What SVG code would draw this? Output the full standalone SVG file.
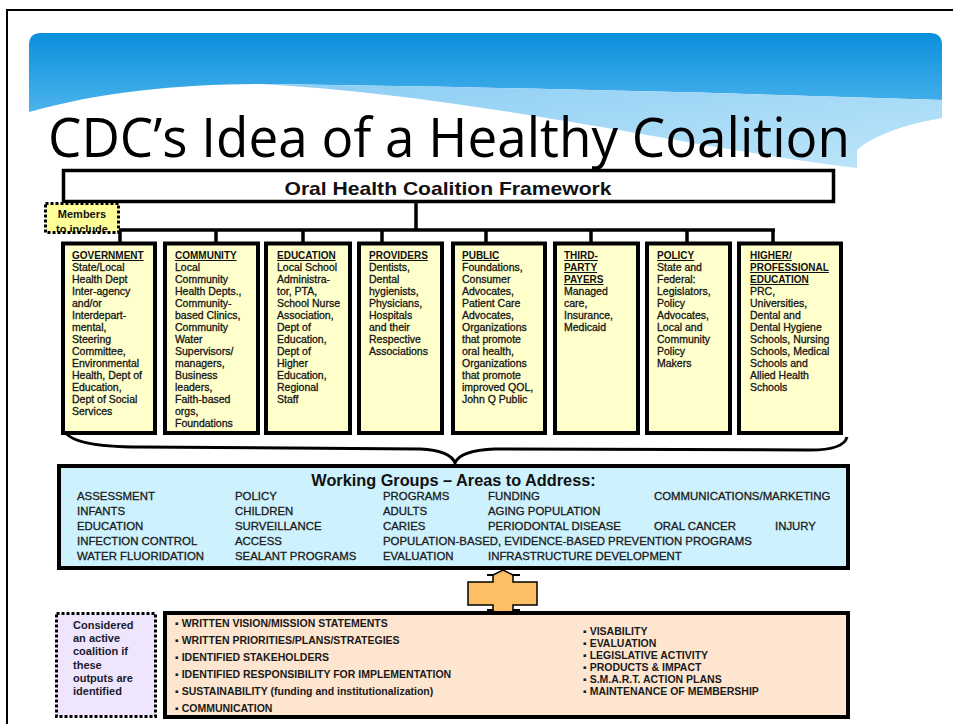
<svg xmlns="http://www.w3.org/2000/svg" width="953" height="724" viewBox="0 0 953 724">
<defs>
<linearGradient id="sky" x1="0" y1="0" x2="0" y2="1">
<stop offset="0" stop-color="#0a8fdc"/>
<stop offset="1" stop-color="#4cb3ec"/>
</linearGradient>
<linearGradient id="band" x1="0" y1="0" x2="1" y2="1">
<stop offset="0" stop-color="#8ccdf3"/>
<stop offset="1" stop-color="#bfe6fa"/>
</linearGradient>
<clipPath id="memclip"><rect x="44" y="202" width="76" height="30"/></clipPath>
<style>
.col{fill:#ffffcc;stroke:#000;stroke-width:4}
.hd{font-family:'Liberation Sans',Arial,sans-serif;font-weight:bold;font-size:10px;fill:#111;text-decoration:underline}
.bd{font-family:'Liberation Sans',Arial,sans-serif;font-size:10.5px;fill:#151515;stroke:#151515;stroke-width:0.3}
.wg{font-family:'Liberation Sans',Arial,sans-serif;font-size:11.4px;fill:#1a1a1a;stroke:#1a1a1a;stroke-width:0.3}
.li{font-family:'Liberation Sans',Arial,sans-serif;font-weight:bold;font-size:10.5px;fill:#1a1a1a}
.con{stroke:#000;stroke-width:3.5;fill:none}
</style>
</defs>
<rect x="7" y="10" width="960" height="730" fill="#fff" stroke="#000" stroke-width="2"/>
<g id="banner">
<path d="M29,112 C100,92 180,84 260,84 C450,86 700,92 942,100 V45 Q942,33 930,33 H41 Q29,33 29,45 Z" fill="url(#sky)"/>
<path d="M260,84 C450,86 700,92 942,100 V118 C900,125 870,138 857,150 V168 C700,150 480,96 260,84 Z" fill="url(#band)"/>
<text x="48" y="157" font-family="'Open Sans','Noto Sans',sans-serif" font-size="54" fill="#000" textLength="802" lengthAdjust="spacingAndGlyphs">CDC’s Idea of a Healthy Coalition</text>
</g>
<g id="framework">
<rect x="63.5" y="170.5" width="770" height="31" fill="#fff" stroke="#000" stroke-width="3.5"/>
<text x="448" y="195" text-anchor="middle" font-family="'Liberation Sans',Arial,sans-serif" font-weight="bold" font-size="19" fill="#111" textLength="327" lengthAdjust="spacingAndGlyphs">Oral Health Coalition Framework</text>
</g>
<g id="connectors">
<path class="con" d="M416,203 V230 M119,230 H775 M120,230 V242 M216,230 V242 M303,230 V242 M382,230 V242 M486,230 V242 M591,230 V242 M687,230 V242 M773,230 V242"/>
<path d="M64,430 C70,445 110,447 140,447 L420,449 C440,450 452,455 455,463 C458,455 470,450 495,449 L810,450 C835,450 845,445 847,437" stroke="#000" stroke-width="3" fill="none"/>
</g>
<g id="members">
<rect x="45.5" y="203.5" width="73" height="29" fill="#ffff99"/>
<g clip-path="url(#memclip)">
<text x="82" y="218" text-anchor="middle" font-family="'Liberation Sans',Arial,sans-serif" font-weight="bold" font-size="11" fill="#111">Members</text>
<text x="82" y="233" text-anchor="middle" font-family="'Liberation Sans',Arial,sans-serif" font-weight="bold" font-size="11" fill="#111">to include</text>
</g>
<rect x="45.5" y="203.5" width="73" height="29" fill="none" stroke="#000" stroke-width="3" stroke-dasharray="3 2"/>
</g>
<g id="government">
<rect class="col" x="63" y="243.5" width="92" height="189.5"/>
<text class="hd" x="72" y="259">GOVERNMENT</text>
<text class="bd" x="72" y="271"><tspan x="72">State/Local</tspan><tspan x="72" dy="12">Health Dept</tspan><tspan x="72" dy="12">Inter-agency</tspan><tspan x="72" dy="12">and/or</tspan><tspan x="72" dy="12">Interdepart-</tspan><tspan x="72" dy="12">mental,</tspan><tspan x="72" dy="12">Steering</tspan><tspan x="72" dy="12">Committee,</tspan><tspan x="72" dy="12">Environmental</tspan><tspan x="72" dy="12">Health, Dept of</tspan><tspan x="72" dy="12">Education,</tspan><tspan x="72" dy="12">Dept of Social</tspan><tspan x="72" dy="12">Services</tspan></text>
</g>
<g id="community">
<rect class="col" x="165" y="243.5" width="93" height="189.5"/>
<text class="hd" x="175" y="259">COMMUNITY</text>
<text class="bd" x="175" y="271"><tspan x="175">Local</tspan><tspan x="175" dy="12">Community</tspan><tspan x="175" dy="12">Health Depts.,</tspan><tspan x="175" dy="12">Community-</tspan><tspan x="175" dy="12">based Clinics,</tspan><tspan x="175" dy="12">Community</tspan><tspan x="175" dy="12">Water</tspan><tspan x="175" dy="12">Supervisors/</tspan><tspan x="175" dy="12">managers,</tspan><tspan x="175" dy="12">Business</tspan><tspan x="175" dy="12">leaders,</tspan><tspan x="175" dy="12">Faith-based</tspan><tspan x="175" dy="12">orgs,</tspan><tspan x="175" dy="12">Foundations</tspan></text>
</g>
<g id="education">
<rect class="col" x="266" y="243.5" width="84" height="189.5"/>
<text class="hd" x="277" y="259">EDUCATION</text>
<text class="bd" x="277" y="271"><tspan x="277">Local School</tspan><tspan x="277" dy="12">Administra-</tspan><tspan x="277" dy="12">tor, PTA,</tspan><tspan x="277" dy="12">School Nurse</tspan><tspan x="277" dy="12">Association,</tspan><tspan x="277" dy="12">Dept of</tspan><tspan x="277" dy="12">Education,</tspan><tspan x="277" dy="12">Dept of</tspan><tspan x="277" dy="12">Higher</tspan><tspan x="277" dy="12">Education,</tspan><tspan x="277" dy="12">Regional</tspan><tspan x="277" dy="12">Staff</tspan></text>
</g>
<g id="providers">
<rect class="col" x="359" y="243.5" width="83" height="189.5"/>
<text class="hd" x="369" y="259">PROVIDERS</text>
<text class="bd" x="369" y="271"><tspan x="369">Dentists,</tspan><tspan x="369" dy="12">Dental</tspan><tspan x="369" dy="12">hygienists,</tspan><tspan x="369" dy="12">Physicians,</tspan><tspan x="369" dy="12">Hospitals</tspan><tspan x="369" dy="12">and their</tspan><tspan x="369" dy="12">Respective</tspan><tspan x="369" dy="12">Associations</tspan></text>
</g>
<g id="public">
<rect class="col" x="453" y="243.5" width="92" height="189.5"/>
<text class="hd" x="462" y="259">PUBLIC</text>
<text class="bd" x="462" y="271"><tspan x="462">Foundations,</tspan><tspan x="462" dy="12">Consumer</tspan><tspan x="462" dy="12">Advocates,</tspan><tspan x="462" dy="12">Patient Care</tspan><tspan x="462" dy="12">Advocates,</tspan><tspan x="462" dy="12">Organizations</tspan><tspan x="462" dy="12">that promote</tspan><tspan x="462" dy="12">oral health,</tspan><tspan x="462" dy="12">Organizations</tspan><tspan x="462" dy="12">that promote</tspan><tspan x="462" dy="12">improved QOL,</tspan><tspan x="462" dy="12">John Q Public</tspan></text>
</g>
<g id="third-party-payers">
<rect class="col" x="555" y="243.5" width="83" height="189.5"/>
<text class="hd" x="564" y="259"><tspan x="564">THIRD-</tspan><tspan x="564" dy="12">PARTY</tspan><tspan x="564" dy="12">PAYERS</tspan></text>
<text class="bd" x="564" y="295"><tspan x="564">Managed</tspan><tspan x="564" dy="12">care,</tspan><tspan x="564" dy="12">Insurance,</tspan><tspan x="564" dy="12">Medicaid</tspan></text>
</g>
<g id="policy">
<rect class="col" x="647" y="243.5" width="83" height="189.5"/>
<text class="hd" x="657" y="259">POLICY</text>
<text class="bd" x="657" y="271"><tspan x="657">State and</tspan><tspan x="657" dy="12">Federal:</tspan><tspan x="657" dy="12">Legislators,</tspan><tspan x="657" dy="12">Policy</tspan><tspan x="657" dy="12">Advocates,</tspan><tspan x="657" dy="12">Local and</tspan><tspan x="657" dy="12">Community</tspan><tspan x="657" dy="12">Policy</tspan><tspan x="657" dy="12">Makers</tspan></text>
</g>
<g id="higher-education">
<rect class="col" x="739" y="243.5" width="102" height="189.5"/>
<text class="hd" x="750" y="259"><tspan x="750">HIGHER/</tspan><tspan x="750" dy="12">PROFESSIONAL</tspan><tspan x="750" dy="12">EDUCATION</tspan></text>
<text class="bd" x="750" y="295"><tspan x="750">PRC,</tspan><tspan x="750" dy="12">Universities,</tspan><tspan x="750" dy="12">Dental and</tspan><tspan x="750" dy="12">Dental Hygiene</tspan><tspan x="750" dy="12">Schools, Nursing</tspan><tspan x="750" dy="12">Schools, Medical</tspan><tspan x="750" dy="12">Schools and</tspan><tspan x="750" dy="12">Allied Health</tspan><tspan x="750" dy="12">Schools</tspan></text>
</g>
<g id="working-groups">
<rect x="59" y="466" width="789" height="102" fill="#cdf1fd" stroke="#000" stroke-width="4"/>
<text x="453.5" y="486" text-anchor="middle" font-family="'Liberation Sans',Arial,sans-serif" font-weight="bold" font-size="16.3" fill="#111">Working Groups – Areas to Address:</text>
<text class="wg" x="77" y="500">ASSESSMENT</text>
<text class="wg" x="235" y="500">POLICY</text>
<text class="wg" x="383" y="500">PROGRAMS</text>
<text class="wg" x="488" y="500">FUNDING</text>
<text class="wg" x="654" y="500">COMMUNICATIONS/MARKETING</text>
<text class="wg" x="77" y="515">INFANTS</text>
<text class="wg" x="235" y="515">CHILDREN</text>
<text class="wg" x="383" y="515">ADULTS</text>
<text class="wg" x="488" y="515">AGING POPULATION</text>
<text class="wg" x="77" y="530">EDUCATION</text>
<text class="wg" x="235" y="530">SURVEILLANCE</text>
<text class="wg" x="383" y="530">CARIES</text>
<text class="wg" x="488" y="530">PERIODONTAL DISEASE</text>
<text class="wg" x="654" y="530">ORAL CANCER</text>
<text class="wg" x="775" y="530">INJURY</text>
<text class="wg" x="77" y="545">INFECTION CONTROL</text>
<text class="wg" x="235" y="545">ACCESS</text>
<text class="wg" x="383" y="545">POPULATION-BASED, EVIDENCE-BASED PREVENTION PROGRAMS</text>
<text class="wg" x="77" y="560">WATER FLUORIDATION</text>
<text class="wg" x="235" y="560">SEALANT PROGRAMS</text>
<text class="wg" x="383" y="560">EVALUATION</text>
<text class="wg" x="488" y="560">INFRASTRUCTURE DEVELOPMENT</text>
</g>
<g id="double-arrow">
<path d="M503,570 L513,575 L513,582 L537,582 L537,605 L513,605 L513,611 L503,616 L493,611 L493,605 L468,605 L468,582 L493,582 L493,575 Z" fill="#fdbf63" stroke="#000" stroke-width="1.5"/>
<path d="M487,575 H493 M513,575 H520 M487,610 H493 M513,610 H520" stroke="#000" stroke-width="2"/>
</g>
<g id="considered">
<rect x="56.5" y="613.5" width="99" height="103" fill="#efe5fc" stroke="#000" stroke-width="3" stroke-dasharray="3 2"/>
<text font-family="'Liberation Sans',Arial,sans-serif" font-weight="bold" font-size="11" fill="#1a1a2e"><tspan x="73" y="629">Considered</tspan><tspan x="73" dy="13.2">an active</tspan><tspan x="73" dy="13.2">coalition if</tspan><tspan x="73" dy="13.2">these</tspan><tspan x="73" dy="13.2">outputs are</tspan><tspan x="73" dy="13.2">identified</tspan></text>
</g>
<g id="outputs">
<rect x="165" y="613" width="683" height="104" fill="#fde5d0" stroke="#000" stroke-width="4"/>
<text class="li"><tspan x="175" y="627">▪ WRITTEN VISION/MISSION STATEMENTS</tspan><tspan x="175" y="644">▪ WRITTEN PRIORITIES/PLANS/STRATEGIES</tspan><tspan x="175" y="661">▪ IDENTIFIED STAKEHOLDERS</tspan><tspan x="175" y="678">▪ IDENTIFIED RESPONSIBILITY FOR IMPLEMENTATION</tspan><tspan x="175" y="695">▪ SUSTAINABILITY (funding and institutionalization)</tspan><tspan x="175" y="712">▪ COMMUNICATION</tspan></text>
<text class="li"><tspan x="583" y="635">▪ VISABILITY</tspan><tspan x="583" y="647">▪ EVALUATION</tspan><tspan x="583" y="659">▪ LEGISLATIVE ACTIVITY</tspan><tspan x="583" y="671">▪ PRODUCTS &amp; IMPACT</tspan><tspan x="583" y="683">▪ S.M.A.R.T. ACTION PLANS</tspan><tspan x="583" y="695">▪ MAINTENANCE OF MEMBERSHIP</tspan></text>
</g>
</svg>
